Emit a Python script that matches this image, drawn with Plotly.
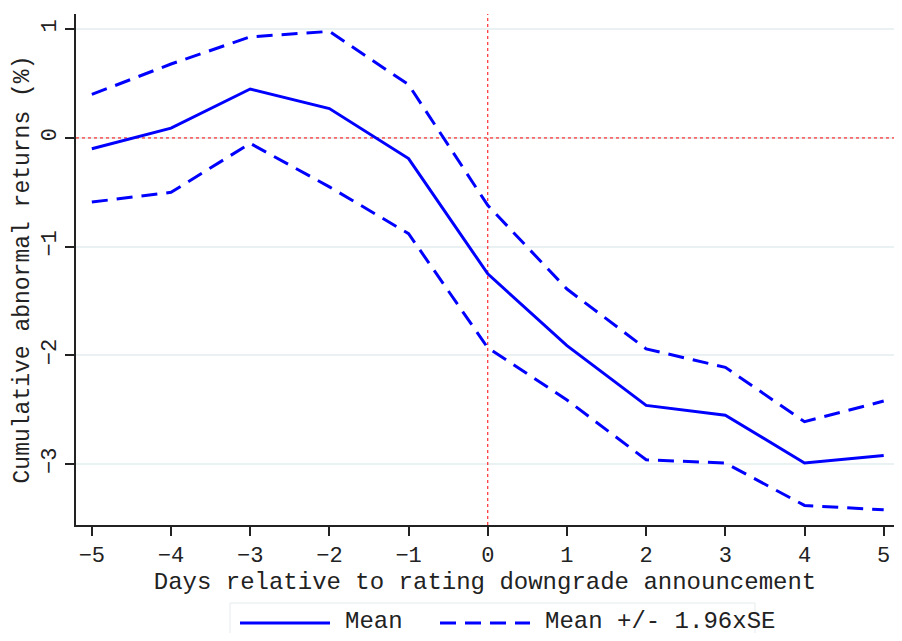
import plotly.graph_objects as go

days = [-5, -4, -3, -2, -1, 0, 1, 2, 3, 4, 5]
mean_car = [-0.10, 0.09, 0.45, 0.27, -0.19, -1.25, -1.91, -2.46, -2.55, -2.99, -2.92]
upper_car = [0.40, 0.68, 0.93, 0.98, 0.49, -0.62, -1.39, -1.94, -2.11, -2.61, -2.42]
lower_car = [-0.59, -0.50, -0.05, -0.45, -0.88, -1.93, -2.41, -2.96, -2.99, -3.38, -3.42]
x_ticks = [-5, -4, -3, -2, -1, 0, 1, 2, 3, 4, 5]
y_ticks = [-3, -2, -1, 0, 1]
legend_labels = ["Mean", "Mean +/- 1.96xSE"]
x_range = [-5.2, 5.13]
y_range = [-3.56, 1.14]

FONT = "Liberation Mono, Courier New, monospace"
BLUE = "#0000ff"
DASH = "16px,9px"

fig = go.Figure()
# reference lines at zero (drawn first: above grid, below data)
fig.add_trace(go.Scatter(x=x_range, y=[0, 0], mode="lines", hoverinfo="skip",
                         line=dict(color="red", width=1, dash="dot")))
fig.add_trace(go.Scatter(x=[0, 0], y=y_range, mode="lines", hoverinfo="skip",
                         line=dict(color="red", width=1, dash="dot")))
fig.add_trace(go.Scatter(x=days, y=mean_car, mode="lines", name=legend_labels[0],
                         line=dict(color=BLUE, width=3)))
fig.add_trace(go.Scatter(x=days, y=upper_car, mode="lines", name=legend_labels[1],
                         line=dict(color=BLUE, width=3, dash=DASH)))
fig.add_trace(go.Scatter(x=days, y=lower_car, mode="lines", name="lower",
                         line=dict(color=BLUE, width=3, dash=DASH)))

# page has an 8px body margin; figure sized to fit the window without scrollbars
OFF = 8
W = 902 - 2 * OFF
H = 641 - 2 * OFF
# layout below in page pixels
L = 76; R = OFF + W; T = 14; B = 525
px = lambda v: (v - L) / (R - L)
py = lambda v: (B - v) / (B - T)
fig.add_shape(type="rect", xref="paper", yref="paper", x0=px(230), x1=px(755), y0=py(680), y1=py(603),
              line=dict(color="#e3ebeb", width=1), fillcolor="white", layer="above")
fig.add_shape(type="line", xref="paper", yref="paper", x0=px(240), x1=px(330), y0=py(623), y1=py(623),
              line=dict(color=BLUE, width=3))
fig.add_shape(type="line", xref="paper", yref="paper", x0=px(440), x1=px(530), y0=py(623), y1=py(623),
              line=dict(color=BLUE, width=3, dash=DASH))
fig.add_annotation(text=legend_labels[0], xref="paper", yref="paper", x=px(343), y=py(621),
                   xanchor="left", yanchor="middle", showarrow=False, font=dict(size=24))
fig.add_annotation(text=legend_labels[1], xref="paper", yref="paper", x=px(543), y=py(621),
                   xanchor="left", yanchor="middle", showarrow=False, font=dict(size=24))

fig.update_layout(
    width=W, height=H,
    margin=dict(l=L - OFF, r=0, t=T - OFF, b=H - (B - OFF)),
    plot_bgcolor="white", paper_bgcolor="white",
    font=dict(family=FONT, color="#222", size=22),
    showlegend=False,
    xaxis=dict(range=x_range, tickvals=x_ticks, ticktext=[str(v).replace("-", "\u2212") for v in x_ticks],
               showgrid=False, zeroline=False, showline=True, linecolor="#222", linewidth=1.5,
               ticks="outside", ticklen=9, tickwidth=1.5, tickcolor="#222", automargin=False,
               tickfont=dict(size=22), ticklabeloverflow="allow",
               title=dict(text="Days relative to rating downgrade announcement", font=dict(size=24), standoff=2)),
    yaxis=dict(range=y_range, tickvals=y_ticks, ticktext=[str(v).replace("-", "\u2212") for v in y_ticks],
               showgrid=True, gridcolor="#eaf1f2", gridwidth=2, zeroline=False,
               showline=True, linecolor="#222", linewidth=1.5, automargin=False,
               ticks="outside", ticklen=9, tickwidth=1.5, tickcolor="#222",
               tickangle=-90, tickfont=dict(size=22),
               title=dict(text="Cumulative abnormal returns (%)", font=dict(size=23), standoff=2)),
)

fig.write_html("out.html")
